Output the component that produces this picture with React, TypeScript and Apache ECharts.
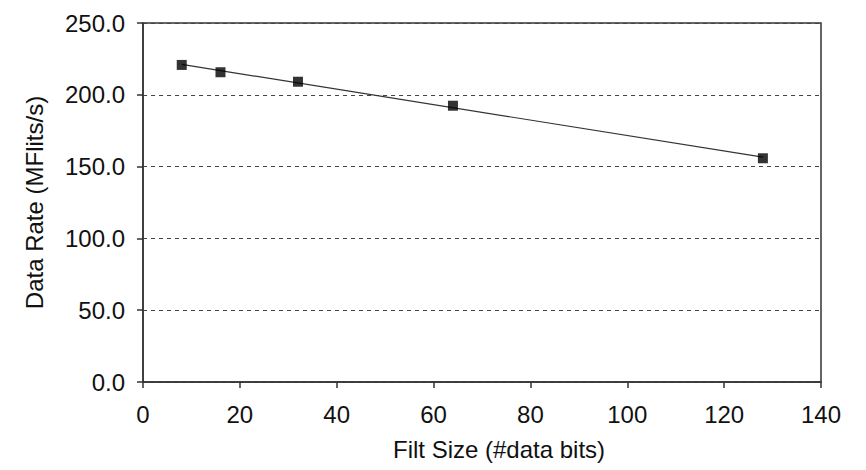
import React, { useEffect, useRef } from "react";
import * as echarts from "echarts";

const filtSizes = [8, 16, 32, 64, 128];
const dataRates = [220.8, 215.7, 209.1, 192.4, 155.8];
const xTicks = { min: 0, max: 140, interval: 20 };
const yTicks = { min: 0, max: 250, interval: 50 };

function linearFit(xs: number[], ys: number[]) {
  const n = xs.length;
  const mx = xs.reduce((a, b) => a + b, 0) / n;
  const my = ys.reduce((a, b) => a + b, 0) / n;
  let sxy = 0;
  let sxx = 0;
  for (let i = 0; i < n; i++) {
    sxy += (xs[i] - mx) * (ys[i] - my);
    sxx += (xs[i] - mx) * (xs[i] - mx);
  }
  const slope = sxy / sxx;
  return (x: number) => my + slope * (x - mx);
}

export default function App() {
  const ref = useRef<HTMLDivElement>(null);
  useEffect(() => {
    if (!ref.current) return;
    const chart = echarts.init(ref.current, null, { renderer: "svg" });
    const fit = linearFit(filtSizes, dataRates);
    const xStart = filtSizes[0];
    const xEnd = filtSizes[filtSizes.length - 1];
    const font = "Liberation Sans, Arial, sans-serif";
    chart.setOption({
      animation: false,
      backgroundColor: "#ffffff",
      grid: {
        left: 143,
        right: 45,
        top: 23,
        bottom: 88,
        show: true,
        borderColor: "#333333",
        borderWidth: 1.5,
      },
      xAxis: {
        type: "value",
        min: xTicks.min,
        max: xTicks.max,
        interval: xTicks.interval,
        name: "Filt Size (#data bits)",
        nameLocation: "middle",
        nameGap: 55,
        nameTextStyle: {
          fontFamily: font,
          fontSize: 24,
          color: "#111111",
          padding: [0, 0, 0, 34],
        },
        axisLine: { show: true, lineStyle: { color: "#333333", width: 1.5 } },
        axisTick: { show: true, inside: false, length: 6, lineStyle: { color: "#333333", width: 1.5 } },
        axisLabel: {
          fontFamily: font,
          fontSize: 24,
          color: "#111111",
          margin: 20,
        },
        splitLine: { show: false },
      },
      yAxis: {
        type: "value",
        min: yTicks.min,
        max: yTicks.max,
        interval: yTicks.interval,
        name: "Data Rate (MFlits/s)",
        nameLocation: "middle",
        nameGap: 97,
        nameTextStyle: {
          fontFamily: font,
          fontSize: 24,
          color: "#111111",
        },
        axisLine: { show: true, lineStyle: { color: "#333333", width: 1.5 } },
        axisTick: { show: true, inside: false, length: 6, lineStyle: { color: "#333333", width: 1.5 } },
        axisLabel: {
          fontFamily: font,
          fontSize: 24,
          color: "#111111",
          margin: 18,
          formatter: (v: number) => v.toFixed(1),
        },
        splitLine: {
          show: true,
          lineStyle: { color: "#444444", type: [4, 4], width: 1 },
        },
      },
      series: [
        {
          type: "line",
          data: [
            [xStart, fit(xStart)],
            [xEnd, fit(xEnd)],
          ],
          symbol: "none",
          lineStyle: { color: "#333333", width: 1.2 },
          z: 2,
        },
        {
          type: "scatter",
          data: filtSizes.map((x, i) => [x, dataRates[i]]),
          symbol: "rect",
          symbolSize: 10,
          itemStyle: { color: "#000000" },
          z: 3,
        },
      ],
    });
    return () => chart.dispose();
  }, []);
  return <div ref={ref} style={{ width: 866, height: 470, position: "absolute", left: 0, top: 0 }} />;
}
